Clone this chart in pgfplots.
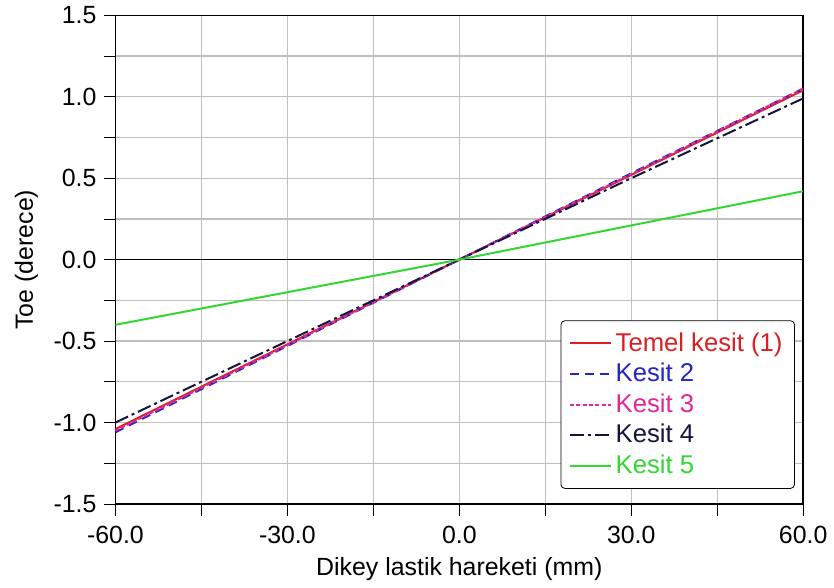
\documentclass[border=0pt]{standalone}
\usepackage{pgfplots}
\pgfplotsset{compat=1.18}
\usepackage{fontspec}
\setmainfont{Liberation Sans}
\definecolor{cred}{RGB}{220,30,35}
\definecolor{cblue}{RGB}{35,35,200}
\definecolor{cmag}{RGB}{225,40,150}
\definecolor{cnavy}{RGB}{20,20,60}
\definecolor{cgreen}{RGB}{50,215,50}
\begin{document}
\begin{tikzpicture}
\begin{axis}[
  scale only axis, width=345.5pt, height=245.5pt,
  xmin=-60, xmax=60, ymin=-1.5, ymax=1.5,
  xtick={-60,-30,0,30,60}, ytick={-1.5,-1,-0.5,0,0.5,1,1.5},
  minor xtick={-45,-15,15,45}, minor ytick={-1.25,-0.75,-0.25,0.25,0.75,1.25},
  tick align=outside, tick pos=left,
  major tick length=6pt, minor tick length=6pt,
  every tick/.style={black, thin},
  grid=both,
  major grid style={gray!50, line width=0.6pt},
  minor grid style={gray!50, line width=0.6pt},
  axis line style={black, line width=0.8pt},
  /pgf/number format/assume math mode=true,
  /pgf/number format/.cd, fixed, fixed zerofill, precision=1, /pgfplots/.cd,
  ticklabel style={font=\fontsize{12.5}{14}\selectfont},
  label style={font=\fontsize{12.5}{14}\selectfont},
  xticklabel style={yshift=-1.5pt},
  xlabel={Dikey lastik hareketi (mm)},
  ylabel={Toe (derece)},
  xlabel style={yshift=0pt},
  ylabel style={yshift=1pt},
  legend style={at={(0.988,0.031)}, anchor=south east, rounded corners=2pt,
    draw=black, font=\fontsize{12.9}{15}\selectfont, row sep=0.5pt, inner xsep=4pt, inner ysep=4pt},
  legend cell align=left,
  legend image code/.code={\draw[#1] (0cm,0cm) -- (0.72cm,0cm);},
]
\addplot[black, line width=0.6pt, forget plot] coordinates {(-60,0) (60,0)};
\addplot[cred, line width=1pt] coordinates {(-60,-1.04) (-30,-0.52) (0,0) (30,0.52) (60,1.04)};
\addlegendentry{\textcolor{cred}{Temel kesit (1)}}
\addplot[cblue, line width=1pt, dash pattern=on 4.5pt off 3pt] coordinates {(-60,-1.06) (-30,-0.53) (0,0) (30,0.53) (60,1.05)};
\addlegendentry{\textcolor{cblue}{Kesit 2}}
\addplot[cmag, line width=1pt, dash pattern=on 2pt off 1.2pt] coordinates {(-60,-1.05) (-30,-0.525) (0,0) (30,0.525) (60,1.05)};
\addlegendentry{\textcolor{cmag}{Kesit 3}}
\addplot[cnavy, line width=1pt, dash pattern=on 7pt off 2pt on 1.5pt off 2pt] coordinates {(-60,-1.0) (-30,-0.50) (0,0) (30,0.50) (60,0.99)};
\addlegendentry{\textcolor{cnavy}{Kesit 4}}
\addplot[cgreen, line width=1pt] coordinates {(-60,-0.40) (-30,-0.20) (0,0) (30,0.21) (60,0.42)};
\addlegendentry{\textcolor{cgreen}{Kesit 5}}
\end{axis}
\path (current axis.south west) ++(-58pt,-39.5pt) coordinate (bbA);
\path (current axis.north east) ++(13.5pt,7.5pt) coordinate (bbB);
\path (bbA) rectangle (bbB);
\end{tikzpicture}
\end{document}
